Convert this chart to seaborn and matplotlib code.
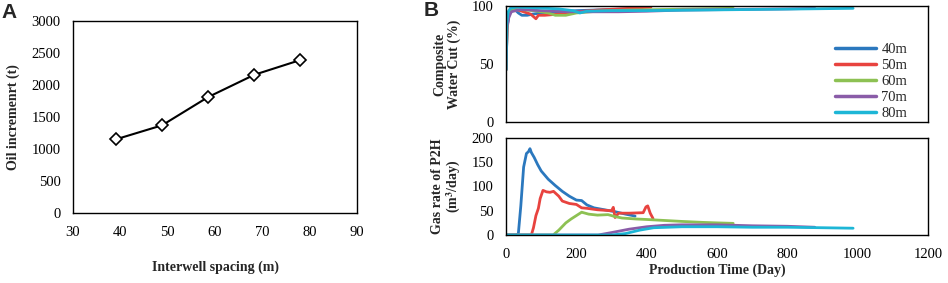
import numpy as np
import pandas as pd
import matplotlib
matplotlib.use('Agg')
import matplotlib.pyplot as plt
import seaborn as sns

sns.set_theme(style='white')
plt.rcParams['font.family'] = ['Liberation Serif', 'DejaVu Serif']
plt.rcParams['mathtext.fontset'] = 'stix'

# ---- panel A data ----
spacing = [39.0, 48.8, 58.5, 68.3, 78.0]
oil_inc = [1150, 1370, 1810, 2160, 2390]

# ---- panel B data ----
labels = ['40m', '50m', '60m', '70m', '80m']
colors = ['#2B78BE', '#E8433F', '#8DC153', '#8A5CA8', '#1DB6D6']

# water cut (%)
wc_t_40 = [0, 3, 8, 15, 25, 35, 45, 60, 75, 100, 150, 200, 250, 300, 362]
wc_v_40 = [45, 80, 92, 96, 97, 94, 92, 92, 93, 94, 95, 96, 96.5, 97, 97.5]
wc_t_50 = [0, 3, 8, 15, 30, 50, 70, 85, 92, 110, 150, 200, 260, 320, 380, 412]
wc_v_50 = [45, 82, 93, 96, 97, 95, 93, 89, 92, 92, 93, 95, 96.5, 97.5, 98.5, 99]
wc_t_60 = [0, 3, 8, 15, 40, 80, 120, 140, 170, 200, 260, 350, 450, 550, 646]
wc_v_60 = [45, 84, 94, 96, 97, 96, 94, 92, 92, 94, 95.5, 96.5, 97, 97.5, 98]
wc_t_70 = [0, 3, 8, 15, 40, 100, 180, 250, 320, 400, 500, 650, 800, 878]
wc_v_70 = [45, 83, 90, 95, 97, 96, 95, 95, 95, 95.5, 96.5, 97, 97.5, 98]
wc_t_80 = [0, 2, 6, 12, 30, 80, 150, 190, 210, 230, 300, 400, 550, 700, 850, 987]
wc_v_80 = [45, 85, 95, 98, 99, 98.5, 97.5, 96, 94, 95.5, 96, 96, 96.5, 97, 97.5, 98]

# gas rate of P2H (m3/day)
gas_t_40 = [0, 30, 35, 42, 50, 58, 64, 68, 72, 80, 90, 100, 120, 140, 160, 180, 200, 215, 230, 250, 280, 310, 340, 367]
gas_v_40 = [0, 0, 3, 60, 140, 168, 172, 178, 170, 160, 145, 132, 115, 102, 90, 80, 72, 71, 62, 56, 52, 48, 43, 39]
gas_t_50 = [0, 72, 78, 85, 92, 97, 105, 115, 125, 135, 150, 160, 180, 200, 215, 230, 260, 300, 305, 310, 320, 350, 390, 398, 403, 410, 418]
gas_v_50 = [0, 0, 15, 40, 55, 75, 92, 89, 88, 90, 80, 70, 65, 63, 56, 55, 52, 50, 57, 36, 45, 45, 46, 58, 60, 45, 34]
gas_t_60 = [0, 134, 150, 170, 185, 200, 215, 235, 260, 290, 310, 330, 370, 400, 450, 500, 560, 600, 646]
gas_v_60 = [0, 0, 10, 25, 33, 40, 47, 43, 41, 42, 38, 35, 33, 32, 30, 28, 26, 25, 24]
gas_t_70 = [0, 262, 300, 350, 400, 450, 500, 600, 700, 800, 878]
gas_v_70 = [0, 0, 5, 12, 17, 20, 21, 21, 19, 18, 16]
gas_t_80 = [0, 300, 340, 380, 420, 500, 600, 700, 800, 900, 987]
gas_v_80 = [0, 0, 3, 10, 15, 17, 17, 16, 16, 15, 14]

wc_t = [wc_t_40, wc_t_50, wc_t_60, wc_t_70, wc_t_80]
wc_v = [wc_v_40, wc_v_50, wc_v_60, wc_v_70, wc_v_80]
gas_t = [gas_t_40, gas_t_50, gas_t_60, gas_t_70, gas_t_80]
gas_v = [gas_v_40, gas_v_50, gas_v_60, gas_v_70, gas_v_80]

wc_df = pd.concat([pd.DataFrame({'t': t, 'v': v, 'case': lab})
                   for t, v, lab in zip(wc_t, wc_v, labels)], ignore_index=True)
gas_df = pd.concat([pd.DataFrame({'t': t, 'v': v, 'case': lab})
                    for t, v, lab in zip(gas_t, gas_v, labels)], ignore_index=True)
palette = dict(zip(labels, colors))

fig = plt.figure(figsize=(9.48, 2.83), dpi=100)
axA = fig.add_axes([0.077, 0.2473, 0.2996, 0.6784])
axB1 = fig.add_axes([0.5338, 0.5689, 0.4451, 0.4099])
axB2 = fig.add_axes([0.5338, 0.1696, 0.4451, 0.3428])

tick_fs = 10.5
lab_fs = 10

# ---- panel A ----
sns.lineplot(x=spacing, y=oil_inc, ax=axA, color='black', lw=1.5,
             marker='D', markersize=6.5, markerfacecolor='white',
             markeredgecolor='black', markeredgewidth=1.2)
axA.set_xlim(30, 90)
axA.set_ylim(0, 3000)
axA.set_xticks(range(30, 91, 10))
axA.set_yticks(range(0, 3001, 500))
axA.set_xlabel('Interwell spacing (m)', fontsize=lab_fs, fontweight='bold', labelpad=16)
axA.set_ylabel('Oil incremenrt (t)', fontsize=lab_fs, fontweight='bold', labelpad=8)

# ---- panel B top ----
sns.lineplot(data=wc_df, x='t', y='v', hue='case', palette=palette, ax=axB1,
             lw=2, sort=False, estimator=None)
axB1.set_xlim(0, 1200)
axB1.set_ylim(0, 100)
axB1.set_yticks([0, 50, 100])
axB1.set_xticks([])
axB1.set_xlabel('')
axB1.set_ylabel('Composite\nWater Cut (%)', fontsize=lab_fs, fontweight='bold',
                labelpad=8, linespacing=1.1)
leg = axB1.legend(loc='lower right', frameon=False, fontsize=10.5, handlelength=2.8,
                  handletextpad=0.35, labelspacing=0.2, borderaxespad=0.0,
                  bbox_to_anchor=(0.965, -0.035))
for line in leg.get_lines():
    line.set_linewidth(2.5)

# ---- panel B bottom ----
sns.lineplot(data=gas_df, x='t', y='v', hue='case', palette=palette, ax=axB2,
             lw=2, sort=False, estimator=None, legend=False)
axB2.set_xlim(0, 1200)
axB2.set_ylim(0, 200)
axB2.set_yticks(range(0, 201, 50))
axB2.set_xticks(range(0, 1201, 200))
axB2.set_xlabel('Production Time (Day)', fontsize=lab_fs, fontweight='bold', labelpad=2)
axB2.set_ylabel('Gas rate of P2H\n(m$^\\mathbf{3}$/day)', fontsize=lab_fs,
                fontweight='bold', labelpad=6, linespacing=1.1)

for ax in (axA, axB1, axB2):
    for sp in ax.spines.values():
        sp.set_visible(True)
        sp.set_color('black')
        sp.set_linewidth(1.0)
    ax.tick_params(axis='both', direction='in', length=3, width=0.8,
                   labelsize=tick_fs, colors='black', pad=9)
    ax.tick_params(axis='y', length=0, pad=9)
    ax.grid(False)

fig.text(0.002, 0.99, 'A', fontsize=15, fontweight='bold', va='top', ha='left',
         family=['Liberation Sans', 'DejaVu Sans'])
fig.text(0.447, 0.995, 'B', fontsize=15, fontweight='bold', va='top', ha='left',
         family=['Liberation Sans', 'DejaVu Sans'])

fig.savefig('out.png', dpi=100)
